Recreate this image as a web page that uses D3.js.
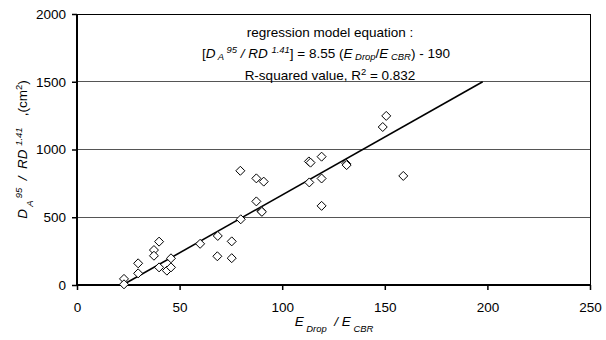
<!DOCTYPE html>
<html><head><meta charset="utf-8">
<script src="https://cdn.jsdelivr.net/npm/d3@7"></script>
<style>body{margin:0;background:#fff}svg{display:block}text{font-family:"Liberation Sans",Arial,sans-serif;white-space:pre}</style>
</head><body><svg id="c" width="606" height="340"></svg>
<script>
const ratioX = [22.9,22.9,29.8,29.8,37.5,37.5,40.0,40.0,43.8,45.8,45.8,60.0,68.6,68.4,75.4,75.4,79.8,79.6,87.4,91.0,87.4,89.8,90.1,113.0,113.8,119.2,113.2,119.2,119.2,131.2,131.4,149.0,150.7,159.0];
const valueY = [45,5,160,86,258,216,320,130,106,130,197,304,362,212,322,198,485,843,787,763,617,546,540,912,903,947,757,786,584,895,885,1166,1248,805];
const fitX = [22.2, 197.7];
const fitSlope = 8.55, fitIntercept = -190;
const xTicks = [0,50,100,150,200,250];
const yTicks = [0,500,1000,1500,2000];

const svg = d3.select("#c");
const L=77,R=590,T=14,B=285;
const x = d3.scaleLinear().domain([0,250]).range([L,R]);
const y = d3.scaleLinear().domain([0,2000]).range([B,T]);

svg.append("g").selectAll("line").data([500,1000,1500]).join("line")
  .attr("x1",L).attr("x2",R).attr("y1",d=>y(d)).attr("y2",d=>y(d))
  .attr("stroke","#555").attr("stroke-width",1).attr("shape-rendering","crispEdges");
svg.append("line").attr("x1",L).attr("x2",R).attr("y1",y(2000)).attr("y2",y(2000)).attr("stroke","#000").attr("shape-rendering","crispEdges");
svg.append("line").attr("x1",R).attr("x2",R).attr("y1",y(2000)).attr("y2",y(0)).attr("stroke","#000").attr("shape-rendering","crispEdges");

const xa = svg.append("g").attr("transform",`translate(0,${B})`)
  .call(d3.axisBottom(x).tickValues(xTicks).tickSize(5).tickPadding(12).tickFormat(d3.format("d")));
const ya = svg.append("g").attr("transform",`translate(${L},0)`)
  .call(d3.axisLeft(y).tickValues(yTicks).tickSize(5).tickPadding(6).tickFormat(d3.format("d")));
[xa,ya].forEach(g=>{
  g.select(".domain").attr("stroke","#000").attr("stroke-width",2);
  g.selectAll(".tick line").attr("stroke","#000").attr("stroke-width",1.5);
  g.selectAll(".tick text").attr("font-size",13.5).attr("fill","#000").attr("font-family","Liberation Sans, Arial, sans-serif");
});
xa.select(".domain").attr("d",`M${L},0H${R}`);
ya.select(".domain").attr("d",`M0,${B}V${T}`);

svg.append("line")
  .attr("x1",x(fitX[0])).attr("y1",y(fitSlope*fitX[0]+fitIntercept))
  .attr("x2",x(fitX[1])).attr("y2",y(fitSlope*fitX[1]+fitIntercept))
  .attr("stroke","#000").attr("stroke-width",1.6);

const diamond = "M0,-4.5L4.5,0L0,4.5L-4.5,0Z";
svg.append("g").selectAll("path").data(ratioX.map((v,i)=>[v,valueY[i]])).join("path")
  .attr("d",diamond).attr("transform",d=>`translate(${x(d[0])},${y(d[1])})`)
  .attr("fill","#fff").attr("stroke","#000").attr("stroke-width",1);

function rich(parent, parts, subShift){
  parts.forEach(p=>{
    const t = parent.append("tspan").text(p.t);
    if(p.i) t.attr("font-style","italic");
    if(p.s==="sup"){t.attr("baseline-shift","super").attr("font-size","70%");}
    if(p.s==="sub"){t.attr("baseline-shift",subShift||"sub").attr("font-size","70%");}
  });
}
const ann = svg.append("g").attr("font-size",13.5).attr("fill","#000");
ann.append("text").attr("x",330).attr("y",37).attr("text-anchor","middle").text("regression model equation :");
const t2 = ann.append("text").attr("x",326).attr("y",58).attr("text-anchor","middle");
rich(t2,[{t:"["},{t:"D",i:1},{t:" A",i:1,s:"sub"},{t:" 95",i:1,s:"sup"},{t:" / RD ",i:1},{t:"1.41",i:1,s:"sup"},{t:"] = 8.55 ("},{t:"E",i:1},{t:" Drop",i:1,s:"sub"},{t:"/"},{t:"E",i:1},{t:" CBR",i:1,s:"sub"},{t:") - 190"}],"-2");
const t3 = ann.append("text").attr("x",330).attr("y",80).attr("text-anchor","middle");
rich(t3,[{t:"R-squared value, R"},{t:"2",s:"sup"},{t:" = 0.832"}]);

const xt = svg.append("text").attr("x",334).attr("y",326).attr("text-anchor","middle").attr("font-size",13.5);
rich(xt,[{t:"E",i:1},{t:" Drop",i:1,s:"sub"},{t:"  / ",i:1},{t:"E",i:1},{t:" CBR",i:1,s:"sub"}]);
const yt = svg.append("text").attr("transform",`translate(27,${(T+B)/2}) rotate(-90)`).attr("text-anchor","middle").attr("font-size",13.5);
rich(yt,[{t:"D",i:1},{t:" A",i:1,s:"sub"},{t:" 95",i:1,s:"sup"},{t:"  /  RD ",i:1},{t:"1.41",i:1,s:"sup"},{t:"   ,(cm"},{t:"2",s:"sup"},{t:")"}]);
</script></body></html>
